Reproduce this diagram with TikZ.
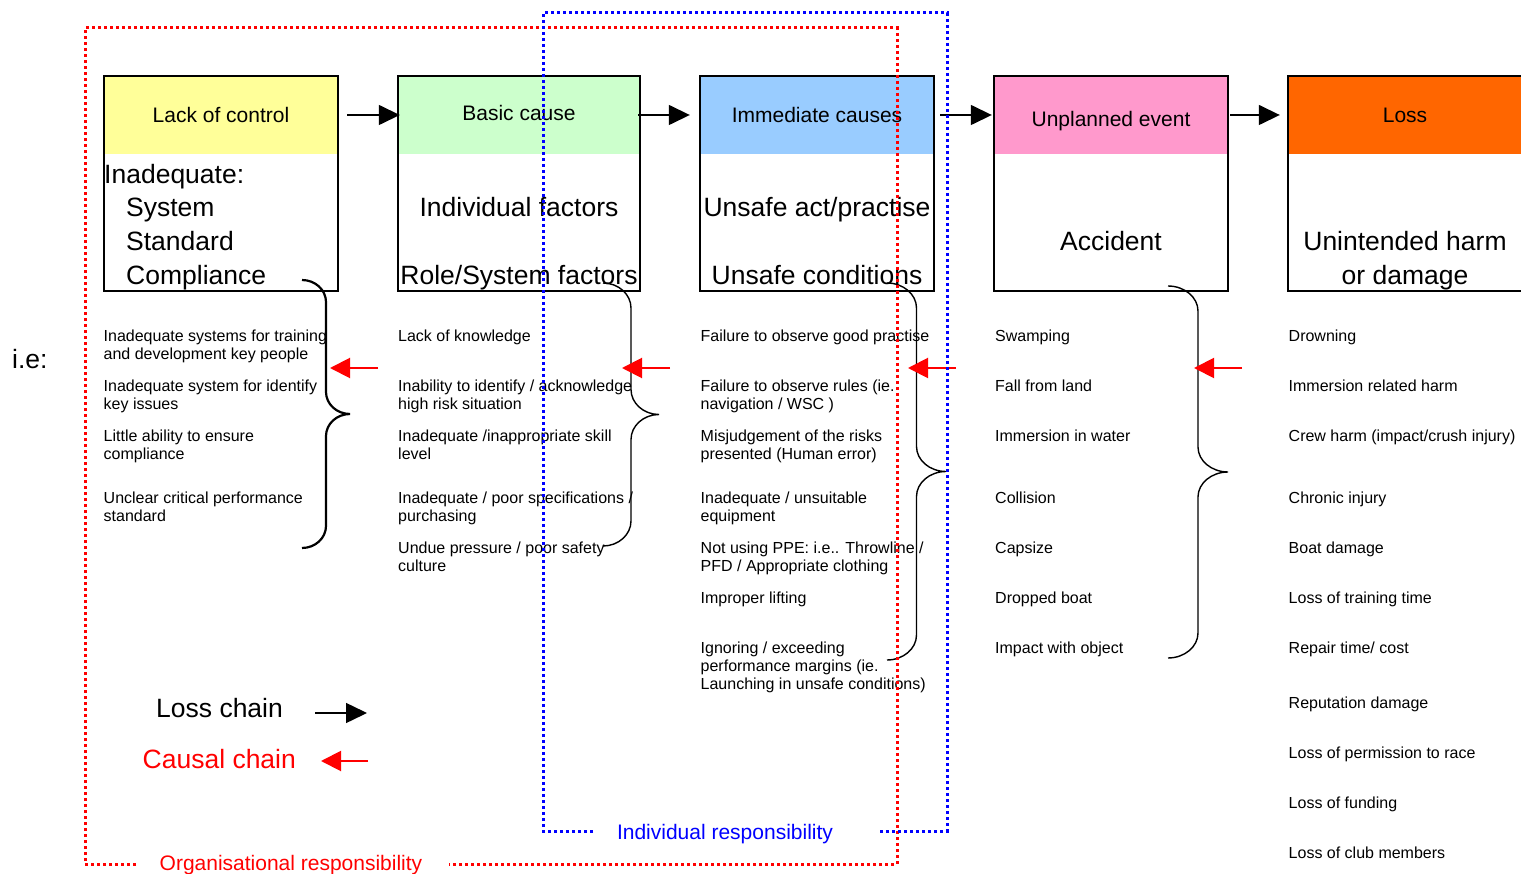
\documentclass[tikz,border=0pt]{standalone}
\usepackage{fontspec}
\setmainfont{Liberation Sans}
\usetikzlibrary{arrows.meta}
\definecolor{ctrlyellow}{HTML}{FFFF99}
\definecolor{basicgreen}{HTML}{CCFFCC}
\definecolor{immblue}{HTML}{99CCFF}
\definecolor{eventpink}{HTML}{FF99CC}
\definecolor{lossorange}{HTML}{FF6600}
\tikzset{
  box/.style={draw, line width=1.8pt, minimum height=215pt, inner sep=0pt},
  head/.style={minimum height=78pt, inner sep=0pt, text height=15pt, text depth=0pt, font=\fontsize{21}{25}\selectfont},
  bigtxt/.style={inner sep=0pt, anchor=base, font=\fontsize{26.5}{34}\selectfont},
  smalltxt/.style={inner sep=0pt, anchor=north west, align=left, font=\fontsize{16}{18}\selectfont},
  losschain/.style={draw, line width=1.5pt, -{Triangle[length=21pt,width=20pt]}},
  causal/.style={draw=red, line width=2pt, -{Triangle[length=20pt,width=20pt]}},
  bracestyle/.style={draw, line width=1.4pt},
  dotline/.style={line width=3pt, dash pattern=on 3pt off 3pt, line cap=butt}
}
% right curly brace: left x, top y, bottom y, half width, corner radius
\newcommand{\sidebrace}[6][]{%
  \draw[bracestyle,#1] (#2,#3)
    .. controls ({#2+0.55*#5},#3) and ({#2+#5},{#3+0.45*#6}) .. ({#2+#5},{#3+#6})
    -- ({#2+#5},{(#3+#4)/2-#6})
    .. controls ({#2+#5},{(#3+#4)/2-0.45*#6}) and ({#2+1.45*#5},{(#3+#4)/2}) .. ({#2+2*#5},{(#3+#4)/2})
    .. controls ({#2+1.45*#5},{(#3+#4)/2}) and ({#2+#5},{(#3+#4)/2+0.45*#6}) .. ({#2+#5},{(#3+#4)/2+#6})
    -- ({#2+#5},{#4-#6})
    .. controls ({#2+#5},{#4-0.45*#6}) and ({#2+0.55*#5},#4) .. (#2,#4);
}

\begin{document}
\begin{tikzpicture}[x=1pt,y=-1pt]
\useasboundingbox (0,0) rectangle (1521,874);

% headers
\node[head, fill=ctrlyellow, minimum width=234pt] (ctlh) at (221,115) {Lack of control};
\node[head, fill=basicgreen, minimum width=242pt] (bash) at (519,115) {\raisebox{1.5pt}{Basic cause}};
\node[head, fill=immblue, minimum width=234pt] (immh) at (817,115) {Immediate causes};
\node[head, fill=eventpink, minimum width=234pt] (evth) at (1111,115) {\raisebox{-4pt}{Unplanned event}};
\node[head, fill=lossorange, minimum width=234pt] (losh) at (1405,115) {Loss};

% boxes
\node[box, minimum width=234pt] (ctl) at (221,183.5) {};
\node[box, minimum width=242pt] (bas) at (519,183.5) {};
\node[box, minimum width=234pt] (imm) at (817,183.5) {};
\node[box, minimum width=234pt] (evt) at (1111,183.5) {};
\node[box, minimum width=234pt] (los) at (1405,183.5) {};

% box texts
\node[bigtxt, anchor=base west] (ctlt1) at (104,183.5) {Inadequate:};
\node[bigtxt, anchor=base west] (ctlt2) at (126,217) {System};
\node[bigtxt, anchor=base west] (ctlt3) at (126,251) {Standard};
\node[bigtxt, anchor=base west] (ctlt4) at (126,284.5) {Compliance};
\node[bigtxt] (bast1) at (519,217) {Individual factors};
\node[bigtxt] (bast2) at (519,284.5) {Role/System factors};
\node[bigtxt] (immt1) at (817,217) {Unsafe act/practise};
\node[bigtxt] (immt2) at (817,284.5) {Unsafe conditions};
\node[bigtxt] (evtt1) at (1111,251) {Accident};
\node[bigtxt] (lost1) at (1405,251) {Unintended harm};
\node[bigtxt] (lost2) at (1405,284.5) {or damage};

% loss chain
\draw[losschain] ([xshift=9pt]ctlh.east) -- ([xshift=2pt]bash.west);
\draw[losschain] ([xshift=-2pt]bash.east) -- ([xshift=-10pt]immh.west);
\draw[losschain] ([xshift=6pt]immh.east) -- ([xshift=-2pt]evth.west);
\draw[losschain] ([xshift=2pt]evth.east) -- ([xshift=-8pt]losh.west);

\node[bigtxt, anchor=base west] (ie) at (12,369) {i.e:};

% lists (top of first line)
\node[smalltxt] (ctl1) at (103.5,329.5) {Inadequate systems for training\\and development key people};
\node[smalltxt] (ctl2) at (103.5,379.5) {Inadequate system for identify\\key issues};
\node[smalltxt] (ctl3) at (103.5,429.5) {Little ability to ensure\\compliance};
\node[smalltxt] (ctl4) at (103.5,491.5) {Unclear critical performance\\standard};

\node[smalltxt] (bas1) at (398,329.5) {Lack of knowledge};
\node[smalltxt] (bas2) at (398,379.5) {Inability to identify / acknowledge\\high risk situation};
\node[smalltxt] (bas3) at (398,429.5) {Inadequate /inappropriate skill\\level};
\node[smalltxt] (bas4) at (398,491.5) {Inadequate / poor specifications /\\purchasing};
\node[smalltxt] (bas5) at (398,541.5) {Undue pressure / poor safety\\culture};

\node[smalltxt] (imm1) at (700.5,329.5) {Failure to observe good practise};
\node[smalltxt] (imm2) at (700.5,379.5) {Failure to observe rules (ie.\\navigation / WSC )};
\node[smalltxt] (imm3) at (700.5,429.5) {Misjudgement of the risks\\presented (Human error)};
\node[smalltxt] (imm4) at (700.5,491.5) {Inadequate / unsuitable\\equipment};
\node[smalltxt] (imm5) at (700.5,541.5) {Not using PPE: i.e.. Throwline /\\PFD / Appropriate clothing};
\node[smalltxt] (imm6) at (700.5,591.5) {Improper lifting};
\node[smalltxt] (imm7) at (700.5,641.5) {Ignoring / exceeding\\performance margins (ie.\\Launching in unsafe conditions)};

\node[smalltxt] (evt1) at (995,329.5) {Swamping};
\node[smalltxt] (evt2) at (995,379.5) {Fall from land};
\node[smalltxt] (evt3) at (995,429.5) {Immersion in water};
\node[smalltxt] (evt4) at (995,491.5) {Collision};
\node[smalltxt] (evt5) at (995,541.5) {Capsize};
\node[smalltxt] (evt6) at (995,591.5) {Dropped boat};
\node[smalltxt] (evt7) at (995,641.5) {Impact with object};

\node[smalltxt] (los1) at (1288.5,329.5) {Drowning};
\node[smalltxt] (los2) at (1288.5,379.5) {Immersion related harm};
\node[smalltxt] (los3) at (1288.5,429.5) {Crew harm (impact/crush injury)};
\node[smalltxt] (los4) at (1288.5,491.5) {Chronic injury};
\node[smalltxt] (los5) at (1288.5,541.5) {Boat damage};
\node[smalltxt] (los6) at (1288.5,591.5) {Loss of training time};
\node[smalltxt] (los7) at (1288.5,641.5) {Repair time/ cost};
\node[smalltxt] (los8) at (1288.5,696.5) {Reputation damage};
\node[smalltxt] (los9) at (1288.5,746.5) {Loss of permission to race};
\node[smalltxt] (los10) at (1288.5,796.5) {Loss of funding};
\node[smalltxt] (los11) at (1288.5,846.5) {Loss of club members};

% braces
\sidebrace[line width=2.2pt]{302}{280}{548}{24}{22}
\sidebrace{603}{283}{546}{28}{25}
\sidebrace{887}{283}{660}{29.5}{25}
\sidebrace{1168}{286}{658}{30}{25}

% causal chain
\coordinate (cz1a) at (378,368); \coordinate (cz1b) at (330,368);
\coordinate (cz2a) at (670,368); \coordinate (cz2b) at (622,368);
\coordinate (cz3a) at (956,368); \coordinate (cz3b) at (908,368);
\coordinate (cz4a) at (1242,368); \coordinate (cz4b) at (1194,368);
\draw[causal] (cz1a) -- (cz1b);
\draw[causal] (cz2a) -- (cz2b);
\draw[causal] (cz3a) -- (cz3b);
\draw[causal] (cz4a) -- (cz4b);

% legend
\node[bigtxt, anchor=base west] (losskey) at (156,717) {Loss chain};
\node[bigtxt, anchor=base west, text=red] (causalkey) at (142.5,768) {Causal chain};
\coordinate (lk1) at (315,713); \coordinate (lk2) at (367,713);
\coordinate (ck1) at (368,761); \coordinate (ck2) at (321,761);
\draw[losschain] (lk1) -- (lk2);
\draw[causal] (ck1) -- (ck2);

% responsibility frames
\node[inner sep=0pt, anchor=base, text=red, font=\fontsize{21}{25}\selectfont] (orgresp) at (291,870) {Organisational responsibility};
\node[inner sep=0pt, anchor=base, text=blue, font=\fontsize{21}{25}\selectfont] (indresp) at (725,839) {Individual responsibility};
\draw[dotline, red] (136,864) -- (85,864) -- (85,28) -- (897,28) -- (897,864) -- (449,864);
\draw[dotline, blue] (593,831) -- (543,831) -- (543,13) -- (947,13) -- (947,831) -- (878,831);
\end{tikzpicture}
\end{document}
